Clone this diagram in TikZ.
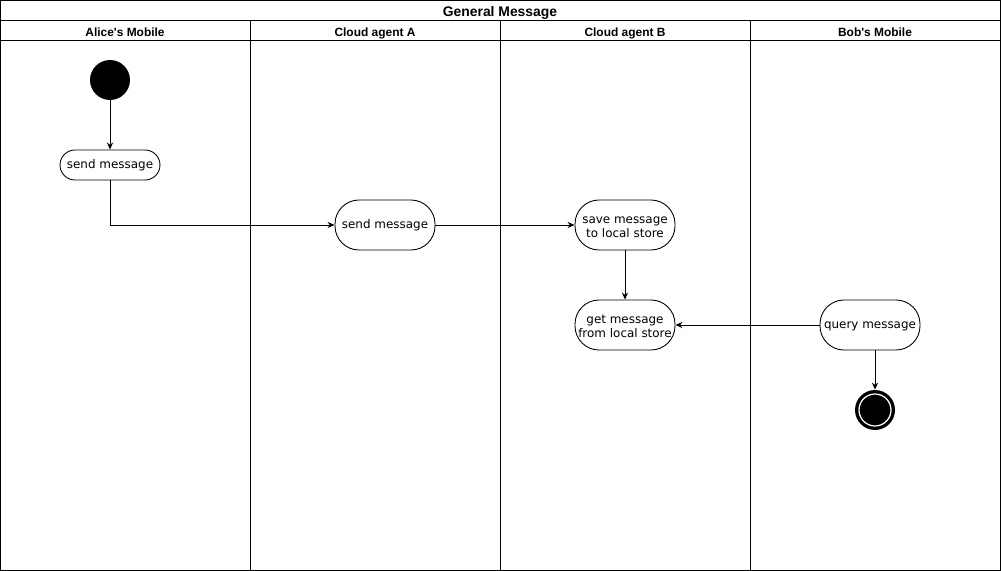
\documentclass[tikz,border=0pt]{standalone}
\usepackage{fontspec}
\setmainfont{DejaVu Sans}
\newfontfamily\headfont{Liberation Sans}
\usetikzlibrary{arrows.meta,positioning}
\definecolor{ink}{HTML}{000000}
\definecolor{paper}{HTML}{FFFFFF}

\begin{document}
\begin{tikzpicture}[x=0.02cm,y=-0.02cm,
    lane/.style={draw=ink,line width=0.5pt},
    headtext/.style={font=\headfont\bfseries\fontsize{6.8}{7.5}\selectfont,
      text height=5pt,text depth=0pt,inner sep=0pt,anchor=base},
    action/.style={draw=ink,fill=paper,line width=0.5pt,rounded corners=0.48cm,
      minimum width=2cm,minimum height=1cm,align=center,inner sep=1pt,
      font=\fontsize{6.8}{7.9}\selectfont},
    oneline/.style={action,text height=3.5pt,text depth=0pt},
    smallaction/.style={oneline,minimum height=0.6cm,rounded corners=0.3cm},
    flow/.style={draw=ink,line width=0.5pt,-{Stealth[length=4pt,width=3.5pt]}}]
        \useasboundingbox (0,0) rectangle (1001,571);
        % swimlane frame
        \draw[lane] (0,0) rectangle (1000,570);
        \draw[lane] (0,20) -- (1000,20);
        \draw[lane] (0,40) -- (1000,40);
        \foreach \x in {250,500,750}{
          \draw[lane] (\x,20) -- (\x,570);
        }
        \node[headtext,font=\headfont\bfseries\fontsize{7.9}{8.5}\selectfont] (title) at (500,16.5) {General Message};
        \node[headtext] (laneA) at (125,36.5) {Alice's Mobile};
        \node[headtext] (laneB) at (375,36.5) {Cloud agent A};
        \node[headtext] (laneC) at (625,36.5) {Cloud agent B};
        \node[headtext] (laneD) at (875,36.5) {Bob's Mobile};
        % states
        \node[circle,fill=ink,minimum size=0.8cm,inner sep=0pt] (start) at (110,80) {};
        \node[smallaction] (aliceSend) at (110,165) {send message};
        \node[oneline] (agentASend) at (385,225) {send message};
        \node[action] (agentBSave) at (625,225) {\rule{0pt}{6pt}save message\\to local store};
        \node[action] (agentBGet) at (625,325) {\rule{0pt}{6.5pt}get message\\from local store};
        \node[oneline] (bobQuery) at (870,325) {query message};
        \node[circle,fill=ink,minimum size=0.8cm,inner sep=0pt] (stop) at (875,410) {};
        \draw[paper,line width=0.7pt] (stop.center) circle[radius=16];
        % flows
        \draw[flow] (start) -- (aliceSend);
        \draw[flow] (aliceSend.south) |- (agentASend.west);
        \draw[flow] (agentASend) -- (agentBSave);
        \draw[flow] (agentBSave) -- (agentBGet);
        \draw[flow] (bobQuery) -- (agentBGet);
        \draw[flow] (bobQuery.south -| stop.north) -- (stop.north);
      \end{tikzpicture}
\end{document}
